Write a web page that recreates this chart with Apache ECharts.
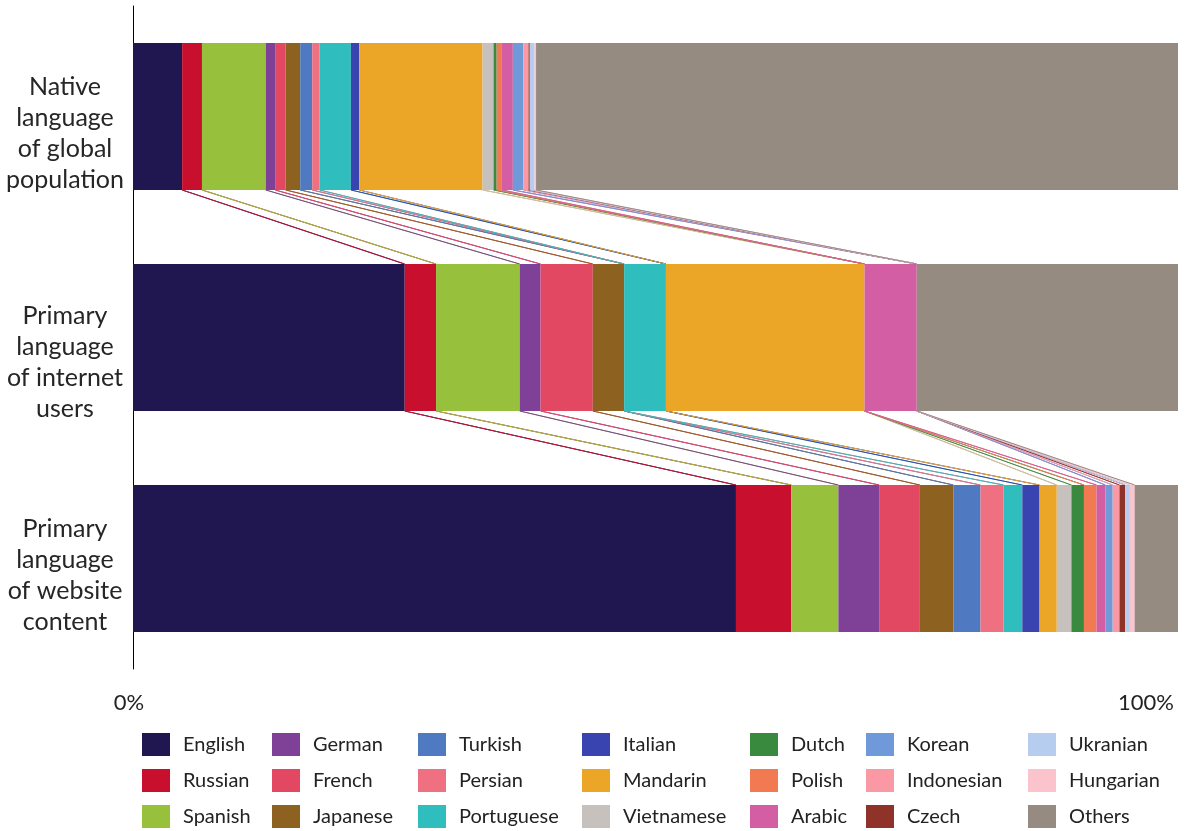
<!DOCTYPE html>
<html>
<head>
<meta charset="utf-8">
<script src="https://cdn.jsdelivr.net/npm/echarts@6/dist/echarts.min.js"></script>
<style>
html,body{margin:0;padding:0;background:#fff;}
#chart{width:1185px;height:831px;}
</style>
</head>
<body>
<div id="chart"></div>
<script>
const categories = [
  'Native\nlanguage\nof global\npopulation',
  'Primary\nlanguage\nof internet\nusers',
  'Primary\nlanguage\nof website\ncontent'
];
const languages = ['English','Russian','Spanish','German','French','Japanese','Turkish','Persian','Portuguese','Italian','Mandarin','Vietnamese','Dutch','Polish','Arabic','Korean','Indonesian','Czech','Ukranian','Hungarian','Others'];
const colors = ['#201751','#c8102e','#97c13c','#7f4098','#e34862','#8d6220','#4f79c0','#ef7080','#30bdbd','#3a44b0','#eba628','#c6c1bd','#398a3f','#f17a52','#d35ea4','#7099d9','#fa98a3','#8f3228','#b6cdf0','#fbc3cc','#968b81'];
const nativeShare   = [4.7,1.9,6.1,0.9,1.0,1.4,1.15,0.7,3.0,0.8,11.8,1.05,0.3,0.5,1.05,1.0,0.5,0.12,0.45,0.15,61.43];
const internetShare = [26.0,3.0,8.0,2.0,5.0,3.0,0,0,4.0,0,19.0,0,0,0,5.0,0,0,0,0,0,25.0];
const contentShare  = [57.7,5.3,4.5,3.9,3.9,3.2,2.6,2.2,1.8,1.65,1.65,1.4,1.2,1.2,0.85,0.7,0.65,0.55,0.45,0.45,4.15];
const xTickLabels = {0:'{lo|0%}',100:'{hi|100%}'};
const legendColumns = [
  ['English','Russian','Spanish'],
  ['German','French','Japanese'],
  ['Turkish','Persian','Portuguese'],
  ['Italian','Mandarin','Vietnamese'],
  ['Dutch','Polish','Arabic'],
  ['Korean','Indonesian','Czech'],
  ['Ukranian','Hungarian','Others']
];

const shares = [nativeShare, internetShare, contentShare];
const BAR_RATIO = 0.665;
const FONT = 'Lato, "Open Sans", sans-serif';

function cumulative(arr){ const out=[]; let s=0; for(const v of arr){ s+=v; out.push(s);} return out; }
const cums = shares.map(cumulative);

// connector lines: for each gap between consecutive bars, each series' left and right edge
const connectorData = [];
for (let c = 0; c < shares.length - 1; c++) {
  for (let i = 0; i < languages.length; i++) {
    const rightA = cums[c][i], rightB = cums[c+1][i];
    const leftA = rightA - shares[c][i], leftB = rightB - shares[c+1][i];
    if (i > 0) connectorData.push([leftA, leftB, c, i]);
    if (i < languages.length - 1) connectorData.push([rightA, rightB, c, i]);
  }
}

const legendLefts = [142, 272, 418, 582, 750, 866, 1028];

const barSeries = languages.map((name, i) => ({
  name: name,
  type: 'bar',
  stack: 'total',
  barWidth: (BAR_RATIO*100) + '%',
  itemStyle: { color: colors[i] },
  data: shares.map(s => s[i]),
  z: 3
}));

const connectorSeries = {
  type: 'custom',
  name: 'connectors',
  silent: true,
  z: 2,
  encode: { x: [0,1], y: 2 },
  data: connectorData,
  renderItem: function(params, api) {
    const a = api.coord([api.value(0), api.value(2)]);
    const b = api.coord([api.value(1), api.value(2) + 1]);
    const half = api.size([0, 1])[1] * BAR_RATIO / 2;
    return {
      type: 'line',
      shape: { x1: a[0], y1: a[1] + half, x2: b[0], y2: b[1] - half },
      style: { stroke: colors[api.value(3)], lineWidth: 1 }
    };
  }
};

const labelStyle = { fontFamily: FONT, fontSize: 25, lineHeight: 31, color: '#262626', align: 'center' };

const option = {
  animation: false,
  backgroundColor: '#ffffff',
  grid: { left: 133, right: 7, top: 6, bottom: 162, containLabel: false, outerBoundsMode: 'none' },
  xAxis: {
    type: 'value', min: 0, max: 100, interval: 100,
    axisLine: { show: false }, axisTick: { show: false }, splitLine: { show: false },
    axisLabel: {
      formatter: v => xTickLabels[v] || '',
      margin: 23,
      alignMinLabel: 'center', alignMaxLabel: 'right',
      rich: {
        lo: { fontFamily: FONT, fontSize: 22, color: '#222', padding: [0, 8, 0, 0] },
        hi: { fontFamily: FONT, fontSize: 22, color: '#222', padding: [0, 4, 0, 0] }
      }
    }
  },
  yAxis: {
    type: 'category', inverse: true,
    data: categories,
    axisLine: { show: true, lineStyle: { color: '#000', width: 1 } },
    axisTick: { show: false },
    axisLabel: {
      fontFamily: FONT, fontSize: 25, lineHeight: 31, color: '#262626',
      align: 'center', margin: 68,
      formatter: function (value, index) {
        const spacer = ['s0', 's1', 's2'][index];
        return '{' + spacer + '|}\n' + value.split('\n').map(l => '{t|' + l + '}').join('\n');
      },
      rich: {
        t: labelStyle,
        s0: { height: 34, lineHeight: 34, fontSize: 1 },
        s1: { height: 50, lineHeight: 50, fontSize: 1 },
        s2: { height: 34, lineHeight: 34, fontSize: 1 }
      }
    }
  },
  legend: legendColumns.map((col, k) => ({
    data: col,
    orient: 'vertical',
    left: legendLefts[k],
    top: 733,
    padding: 0,
    itemWidth: 28,
    itemHeight: 23,
    itemGap: 13,
    icon: 'rect',
    selectedMode: false,
    textStyle: { fontFamily: FONT, fontSize: 20, color: '#222', padding: [0,0,0,8] }
  })),
  series: [connectorSeries].concat(barSeries)
};

const chart = echarts.init(document.getElementById('chart'), null, { renderer: 'canvas' });
chart.setOption(option);
</script>
</body>
</html>
